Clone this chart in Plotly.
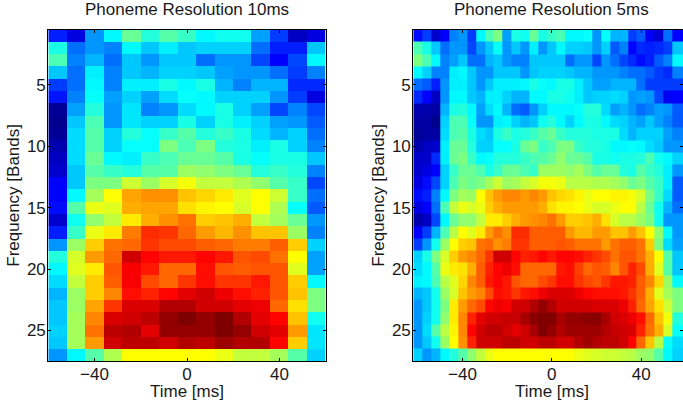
import plotly.graph_objects as go

W, H = 683, 405
bands = list(range(1, 28))
time_10ms = [-56 + 8 * i for i in range(15)]
edges_5ms = [-62 + 4 * i for i in range(30)] + [59]

z_10ms = [
[14,8,26,36,47,40,45,42,36,38,38,27,17,5,8],
[39,22,26,24,36,31,35,31,32,32,32,22,14,14,31],
[44,24,29,22,31,26,31,31,22,26,26,18,11,18,36],
[31,22,35,24,31,29,32,32,31,27,26,26,22,17,24],
[17,22,36,24,35,35,39,36,39,29,24,29,29,15,15],
[13,24,37,27,32,27,33,37,36,32,32,32,26,17,8],
[1,27,40,26,34,24,26,33,36,39,32,27,18,24,18],
[0,31,44,26,34,32,32,39,32,39,35,32,27,26,20],
[1,33,45,32,40,37,42,45,40,42,39,33,29,32,22],
[3,33,45,32,37,37,49,44,49,40,39,35,39,32,24],
[5,33,47,36,35,42,44,47,47,45,39,37,39,39,31],
[6,31,45,42,40,45,45,52,51,49,47,40,42,40,24],
[11,31,49,49,57,52,58,61,56,56,54,51,45,42,18],
[11,36,53,62,71,73,73,68,66,64,59,62,57,42,22],
[12,45,60,59,70,71,71,65,63,62,58,62,54,37,20],
[6,38,51,56,64,70,73,76,67,68,70,56,53,47,26],
[14,42,60,64,75,83,82,77,72,69,73,68,68,52,24],
[26,52,67,76,77,82,80,80,78,77,75,75,78,67,32],
[40,58,72,77,92,87,85,85,87,85,79,80,76,62,27],
[36,59,64,79,88,85,77,77,86,79,78,79,79,59,27],
[33,56,67,78,88,80,77,82,86,82,82,85,79,67,36],
[29,52,67,74,86,84,87,90,92,89,86,84,79,68,49],
[31,52,71,82,91,91,95,95,92,92,90,89,77,65,49],
[31,53,74,91,92,94,98,100,98,100,95,90,87,68,38],
[32,53,76,94,95,90,98,98,98,100,98,92,90,72,34],
[31,53,72,92,94,94,92,95,94,97,95,95,87,67,34],
[26,36,45,54,62,62,62,62,62,60,56,56,53,45,32],
]

z_5ms = [
[12,17,6,11,24,26,17,36,44,49,27,39,38,47,39,42,44,36,36,37,26,37,29,29,17,20,10,7,22,11],
[44,39,31,22,26,26,18,26,31,37,26,31,26,35,26,31,36,32,32,31,26,32,20,24,11,15,14,15,17,31],
[49,44,36,24,27,31,22,22,29,31,26,24,24,31,31,31,31,22,26,26,18,26,22,18,15,12,14,20,24,36],
[36,32,24,24,35,36,31,26,26,31,31,31,26,31,32,32,32,31,29,29,26,26,26,24,22,22,20,17,15,24],
[22,20,14,26,35,35,31,26,31,35,35,35,36,39,37,36,39,39,35,31,27,27,29,29,29,22,17,17,17,17],
[15,11,5,26,36,36,31,29,35,35,32,29,29,36,36,39,39,38,35,31,32,32,33,32,26,27,26,18,10,11],
[3,3,2,29,39,40,36,27,33,36,29,22,20,26,32,36,36,36,37,40,40,33,27,29,26,22,24,27,26,20],
[2,2,0,32,44,44,37,26,26,35,36,32,29,31,38,40,36,32,36,39,39,36,33,32,29,27,31,27,24,20],
[1,2,2,33,44,45,39,33,31,39,42,39,40,42,45,47,42,40,40,40,39,39,39,33,29,32,32,32,27,24],
[3,5,6,35,47,47,40,32,32,37,37,39,47,49,42,44,49,49,42,40,40,39,36,36,37,36,33,31,26,26],
[6,6,15,35,47,49,42,36,37,40,40,40,42,44,45,47,51,47,47,45,39,39,38,39,39,40,44,38,36,32],
[6,8,11,32,42,47,47,44,39,42,47,47,44,42,52,52,52,51,53,49,45,47,47,40,39,45,42,40,35,26],
[8,12,18,32,44,49,47,49,53,57,52,53,56,58,61,61,60,55,55,55,54,54,53,51,47,49,45,42,35,20],
[12,14,24,36,49,53,52,62,68,72,74,74,72,74,72,68,66,65,63,60,62,62,63,63,61,58,49,42,33,20],
[8,11,22,44,56,60,58,60,67,70,72,72,72,72,70,65,63,63,62,60,58,58,60,62,62,55,47,38,29,22],
[3,5,18,36,47,51,51,56,64,64,67,70,72,73,74,76,72,67,67,68,70,65,58,55,55,52,49,38,26,26],
[11,17,29,44,55,62,59,64,72,76,73,83,83,78,78,78,78,72,69,69,72,72,68,68,72,68,62,51,36,26],
[17,26,38,52,62,67,68,76,77,73,75,82,82,78,78,78,79,78,76,76,76,72,76,78,78,76,67,49,33,27],
[32,39,49,58,67,72,74,77,82,92,92,87,84,85,87,85,87,87,86,84,82,80,76,79,79,76,70,62,45,31],
[33,36,45,60,64,65,70,78,84,87,89,86,77,77,77,77,85,86,81,77,79,78,74,79,84,80,70,59,45,31],
[35,36,44,55,59,66,74,78,85,87,85,79,77,77,80,82,86,86,82,80,79,82,85,85,84,78,74,66,52,36],
[29,31,38,52,58,68,72,74,80,86,85,82,85,86,89,91,91,91,89,87,86,86,86,85,82,78,70,59,53,49],
[26,31,38,49,64,72,77,80,87,89,88,92,92,95,98,95,92,92,92,92,91,91,91,89,84,77,71,65,57,49],
[26,32,38,51,64,74,84,90,92,92,93,93,96,99,100,100,96,98,98,99,99,96,92,91,89,86,77,68,61,40],
[26,33,45,55,63,74,87,92,94,94,92,90,92,96,100,98,95,97,97,97,97,95,93,92,91,84,76,70,58,37],
[26,31,38,52,62,73,84,92,92,92,94,94,92,92,94,94,92,92,95,97,95,94,94,92,87,77,68,55,37,33],
[32,26,29,36,40,45,51,56,60,62,62,62,62,62,62,62,62,62,60,59,58,57,57,56,55,52,51,45,36,32],
]

# MATLAB jet
jet = [
    [0.0, "rgb(0,0,143)"], [0.11, "rgb(0,0,255)"], [0.365, "rgb(0,255,255)"],
    [0.62, "rgb(255,255,0)"], [0.873, "rgb(255,0,0)"], [1.0, "rgb(128,0,0)"],
]
FONT = "Liberation Sans, Arial, sans-serif"
TXT = "#1a1a1a"

fig = go.Figure()
fig.add_trace(go.Heatmap(x=time_10ms, y=bands, z=z_10ms, colorscale=jet, zmin=0, zmax=100,
                         showscale=False, xaxis="x", yaxis="y"))
fig.add_trace(go.Heatmap(x=edges_5ms, y=bands, z=z_5ms, colorscale=jet, zmin=0, zmax=100,
                         showscale=False, xaxis="x2", yaxis="y2"))

def xax(dom, rng):
    return dict(domain=dom, range=rng, tickvals=[-40, 0, 40], ticktext=["\u221240", "0", "40"],
                ticks="inside", ticklen=3, tickwidth=1, tickcolor="black", showline=True,
                linecolor="black", linewidth=1.2, mirror="allticks", showgrid=False, zeroline=False,
                ticklabelstandoff=-3,
                tickfont=dict(size=17, color=TXT))

def yax(anchor, dom):
    return dict(domain=dom, range=[27.5, 0.5], tickvals=[5, 10, 15, 20, 25], anchor=anchor,
                ticks="inside", ticklen=3, tickwidth=1, tickcolor="black", showline=True,
                linecolor="black", linewidth=1.2, mirror="allticks", showgrid=False, zeroline=False,
                ticklabelstandoff=-2,
                title=dict(text="Frequency [Bands]", standoff=2, font=dict(size=17, color=TXT)),
                tickfont=dict(size=17, color=TXT))

def label(text, xref, ypx):
    return dict(text=text, xref=xref, yref="paper", x=0, y=1 - ypx / H, showarrow=False,
                xanchor="center", yanchor="middle", font=dict(size=17, color=TXT))

ydom = [1 - 361.2 / H, 1 - 29.5 / H]
fig.update_layout(
    width=W, height=H, autosize=False, margin=dict(l=0, r=0, t=0, b=0),
    paper_bgcolor="white", plot_bgcolor="white", font=dict(family=FONT, color=TXT),
    xaxis=xax([48.3 / W, 325.7 / W], [-60, 60]),
    yaxis=yax("x", ydom),
    xaxis2=xax([413.3 / W, 1.0], [-62, 58.7]) | dict(anchor="y2"),
    yaxis2=yax("x2", ydom),
    annotations=[
        label("Phoneme Resolution 10ms", "x", 9),
        label("Phoneme Resolution 5ms", "x2", 9),
        label("Time [ms]", "x", 391),
        label("Time [ms]", "x2", 391),
    ],
)
fig.write_html("out.html", config={"displayModeBar": False},
               post_script="document.body.style.margin='0';document.body.style.overflow='hidden';window.dispatchEvent(new Event('resize'));")
